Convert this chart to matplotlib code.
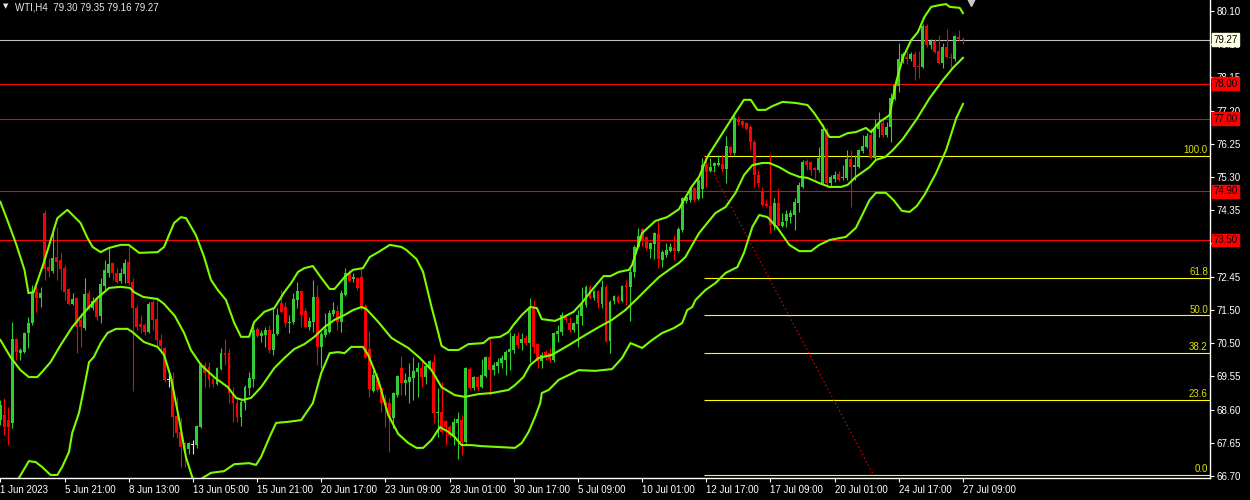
import numpy as np
import matplotlib
matplotlib.use("Agg")
import matplotlib.pyplot as plt
from matplotlib import transforms

# ---- candle data (WTI, H4) ----
opens = [68.31, 68.46, 68.31, 68.22, 70.65, 70.24, 70.27, 70.82, 71.11, 72.00,
         71.83, 74.28, 72.72, 72.61, 73.01, 72.92, 72.69, 72.09, 71.66, 71.83,
         71.20, 70.96, 71.97, 71.54, 71.83, 71.31, 72.18, 72.55, 72.84, 72.55,
         72.32, 72.52, 72.87, 72.29, 71.54, 71.08, 71.05, 70.85, 71.71, 71.22,
         70.62, 70.39, 69.47, 69.49, 68.43, 67.97, 67.65, 67.48, 67.59, 67.59,
         68.11, 69.90, 69.84, 69.49, 69.35, 69.78, 70.24, 70.24, 69.12, 68.80,
         68.40, 68.80, 69.24, 69.49, 70.94, 70.73, 70.76, 70.91, 70.33, 70.79,
         71.68, 71.57, 71.11, 71.14, 71.77, 72.03, 71.45, 70.99, 71.14, 71.86,
         70.42, 70.76, 70.85, 71.37, 71.45, 71.14, 71.92, 72.55, 72.38, 72.41,
         72.43, 71.60, 70.36, 69.15, 69.55, 69.24, 68.83, 68.80, 68.37, 69.03,
         69.81, 69.38, 69.41, 69.52, 69.70, 69.81, 69.55, 69.84, 69.98, 68.51,
         68.54, 68.28, 68.11, 67.88, 68.23, 68.31, 67.68, 69.78, 69.24, 69.55,
         69.26, 69.58, 70.13, 69.75, 69.87, 69.96, 70.04, 70.27, 70.33, 70.73,
         70.53, 70.68, 70.53, 71.54, 70.50, 70.01, 70.27, 70.24, 70.04, 70.79,
         70.85, 71.28, 71.11, 70.91, 71.08, 71.31, 71.63, 72.15, 71.83, 72.03,
         71.66, 72.15, 70.59, 71.74, 71.86, 71.74, 72.20, 72.15, 72.58, 73.30,
         73.82, 73.59, 73.24, 73.39, 73.67, 72.92, 73.07, 73.18, 73.27, 73.18,
         73.79, 74.62, 74.65, 75.00, 74.68, 74.97, 75.66, 75.49, 75.63, 75.66,
         75.69, 75.55, 76.18, 76.01, 76.99, 76.93, 76.87, 76.76, 76.33, 75.37,
         74.88, 74.54, 74.48, 73.90, 74.57, 73.90, 74.05, 74.16, 74.22, 74.57,
         75.03, 75.78, 75.75, 75.58, 75.52, 75.14, 76.70, 75.14, 75.26, 75.40,
         75.29, 75.29, 75.83, 75.60, 75.60, 76.07, 76.18, 76.53, 75.86, 76.70,
         76.87, 76.53, 76.76, 77.56, 77.94, 78.69, 78.77, 78.72, 78.86, 78.51,
         78.49, 79.67, 79.12, 79.24, 78.95, 78.60, 79.06, 78.77, 78.72, 79.35,
         79.30]
highs = [68.89, 68.95, 68.69, 71.14, 70.68, 70.39, 70.85, 71.28, 72.20, 72.18,
         72.15, 74.37, 72.98, 73.88, 73.88, 73.13, 72.78, 72.12, 71.97, 71.86,
         71.40, 72.41, 72.06, 71.86, 71.91, 72.41, 72.92, 73.27, 72.87, 72.69,
         72.69, 72.95, 73.33, 72.41, 71.63, 71.34, 71.11, 71.71, 71.77, 71.86,
         70.79, 70.42, 69.67, 69.70, 68.98, 68.37, 67.68, 67.68, 67.74, 68.17,
         69.96, 69.98, 69.98, 69.55, 69.84, 70.39, 70.65, 70.36, 69.26, 68.95,
         68.89, 69.32, 69.70, 71.14, 70.99, 70.91, 70.99, 71.05, 71.57, 71.54,
         72.06, 71.71, 71.34, 71.97, 72.29, 72.06, 71.54, 71.28, 72.35, 72.20,
         70.85, 71.40, 71.48, 71.71, 71.63, 72.06, 72.69, 72.64, 72.55, 72.43,
         72.67, 71.66, 70.88, 69.75, 69.67, 69.26, 69.03, 68.95, 69.12, 69.61,
         70.16, 69.67, 69.96, 70.13, 69.98, 69.98, 69.96, 70.04, 70.22, 69.24,
         69.41, 68.31, 68.17, 68.37, 68.54, 68.46, 69.84, 69.84, 69.58, 69.58,
         70.07, 70.16, 70.70, 69.98, 70.10, 70.19, 70.33, 70.85, 70.82, 70.85,
         70.82, 70.76, 71.83, 71.77, 70.53, 70.27, 70.33, 70.39, 70.85, 71.05,
         71.43, 71.34, 71.28, 71.14, 71.48, 72.15, 72.20, 72.20, 72.06, 72.06,
         72.35, 72.20, 71.77, 71.91, 71.91, 72.20, 72.35, 72.69, 73.36, 73.85,
         73.85, 73.62, 73.44, 73.73, 74.05, 73.21, 73.41, 73.41, 73.64, 73.88,
         74.74, 74.80, 75.06, 75.03, 75.29, 75.86, 75.92, 75.86, 75.75, 75.95,
         75.95, 76.50, 76.21, 77.13, 77.07, 76.96, 76.90, 76.82, 76.38, 75.52,
         75.03, 74.68, 75.98, 74.71, 75.00, 74.28, 74.37, 74.37, 74.71, 75.17,
         75.81, 75.84, 75.78, 75.60, 76.18, 76.84, 76.73, 75.37, 75.49, 75.49,
         75.66, 76.09, 76.09, 75.95, 76.12, 76.53, 76.59, 76.73, 76.99, 77.19,
         76.96, 76.90, 77.74, 78.02, 79.18, 78.92, 78.95, 78.92, 78.95, 78.95,
         79.73, 79.73, 79.29, 79.29, 79.41, 79.18, 79.58, 78.89, 79.41, 79.55,
         79.35]
lows = [68.17, 67.88, 67.59, 68.08, 70.04, 70.04, 70.24, 70.39, 71.05, 71.43,
        71.57, 72.35, 72.43, 72.55, 72.35, 72.06, 71.77, 71.63, 71.63, 70.24,
        70.42, 70.91, 71.48, 71.48, 71.20, 71.11, 72.06, 72.43, 72.35, 72.26,
        72.26, 72.26, 72.20, 69.15, 70.91, 70.82, 70.76, 70.82, 70.91, 70.42,
        70.24, 69.41, 69.26, 67.82, 67.79, 66.96, 66.96, 67.33, 67.33, 67.51,
        68.08, 69.26, 69.26, 69.26, 69.32, 69.75, 69.90, 68.80, 68.26, 68.26,
        68.14, 68.60, 69.03, 69.26, 70.70, 70.56, 70.42, 70.24, 70.19, 70.76,
        71.40, 70.99, 70.82, 71.08, 71.54, 70.99, 70.96, 70.91, 70.85, 69.90,
        69.81, 70.70, 70.82, 71.31, 70.91, 70.85, 71.89, 72.29, 72.29, 72.06,
        71.48, 70.10, 68.98, 69.12, 69.12, 68.54, 68.11, 67.39, 68.08, 68.98,
        69.03, 69.03, 68.80, 68.89, 68.98, 69.26, 69.35, 69.81, 68.23, 67.82,
        67.94, 67.59, 67.82, 67.59, 67.19, 67.30, 67.65, 69.18, 69.18, 69.15,
        69.24, 69.55, 69.03, 69.61, 69.67, 69.81, 69.61, 69.75, 70.24, 70.39,
        70.33, 70.47, 69.98, 70.24, 69.81, 69.81, 70.04, 69.98, 69.98, 70.56,
        70.76, 71.14, 70.85, 70.85, 70.42, 71.05, 71.57, 71.80, 71.77, 71.54,
        71.54, 70.56, 70.24, 71.66, 71.69, 71.71, 71.63, 71.17, 72.43, 73.27,
        73.33, 73.21, 72.98, 72.95, 72.69, 72.72, 73.01, 73.15, 72.92, 73.15,
        73.73, 74.57, 74.60, 74.60, 74.65, 74.71, 75.03, 75.46, 75.46, 75.63,
        75.46, 75.14, 75.95, 75.95, 76.82, 76.76, 76.67, 76.09, 75.03, 75.03,
        74.48, 74.45, 73.70, 73.79, 73.99, 73.87, 73.87, 73.99, 73.79, 74.31,
        75.00, 75.52, 75.37, 75.26, 75.46, 75.12, 75.09, 75.03, 75.17, 75.20,
        75.23, 75.23, 74.45, 75.23, 75.58, 76.01, 76.15, 75.83, 75.83, 76.47,
        76.47, 76.47, 76.33, 77.54, 77.77, 78.60, 78.57, 78.66, 78.11, 78.17,
        78.46, 79.06, 79.01, 78.89, 78.57, 78.46, 78.75, 78.40, 78.66, 79.26,
        79.16]
closes = [68.74, 68.11, 68.11, 70.65, 70.27, 70.33, 70.82, 71.11, 71.97, 71.83,
          71.97, 72.67, 72.61, 72.98, 72.87, 72.67, 72.00, 71.66, 71.80, 70.99,
          70.99, 71.94, 71.51, 71.74, 71.28, 72.23, 72.64, 72.81, 72.55, 72.29,
          72.55, 72.84, 72.26, 71.54, 70.99, 70.99, 70.85, 71.66, 71.20, 70.62,
          70.45, 69.47, 69.47, 68.40, 67.94, 67.53, 67.45, 67.65, 67.59, 68.14,
          69.90, 69.67, 69.47, 69.35, 69.81, 70.24, 70.19, 69.09, 68.80, 68.40,
          68.83, 69.26, 69.52, 70.91, 70.73, 70.82, 70.91, 70.33, 70.79, 71.34,
          71.43, 71.11, 71.14, 71.80, 72.03, 71.34, 70.99, 71.17, 71.86, 70.42,
          70.79, 70.94, 71.40, 71.48, 71.14, 71.97, 72.55, 72.32, 72.43, 72.12,
          71.57, 70.13, 69.21, 69.61, 69.18, 68.80, 68.74, 68.37, 69.09, 69.58,
          69.38, 69.47, 69.55, 69.73, 69.81, 69.55, 69.87, 70.01, 68.51, 68.54,
          67.97, 68.11, 67.88, 68.25, 68.34, 67.68, 69.81, 69.24, 69.55, 69.26,
          69.61, 70.13, 69.75, 69.90, 69.98, 70.10, 70.27, 70.36, 70.73, 70.47,
          70.65, 70.53, 71.54, 70.42, 70.01, 70.19, 70.16, 70.07, 70.82, 70.88,
          71.34, 71.20, 70.91, 71.11, 71.34, 71.69, 72.15, 71.83, 72.03, 71.69,
          72.15, 70.59, 71.71, 71.89, 71.71, 72.18, 72.15, 72.58, 73.30, 73.62,
          73.50, 73.27, 73.41, 73.70, 72.95, 73.15, 73.21, 73.30, 73.18, 73.82,
          74.71, 74.74, 75.00, 74.65, 75.23, 75.66, 75.46, 75.60, 75.72, 75.72,
          75.55, 76.21, 76.01, 77.02, 76.90, 76.82, 76.70, 76.33, 75.37, 75.14,
          74.51, 74.48, 73.93, 74.57, 73.90, 74.02, 74.25, 74.28, 74.60, 75.09,
          75.75, 75.66, 75.52, 75.52, 75.86, 76.70, 75.14, 75.32, 75.37, 75.23,
          75.32, 75.83, 75.60, 75.66, 76.09, 76.21, 76.50, 75.86, 76.70, 76.87,
          76.53, 76.76, 77.59, 77.97, 78.72, 78.86, 78.72, 78.86, 78.49, 78.49,
          79.67, 79.12, 79.24, 78.92, 78.60, 79.06, 78.77, 78.75, 79.38, 79.29,
          79.27]

# ---- Bollinger bands (bar index, price) ----
upper_x = [0, 2, 4, 6, 7, 8.3, 10.8, 14.2, 16.7, 20, 21.7, 23, 25, 27, 30, 32, 34.6, 39.2, 40.8, 43.3,
           45, 46.3, 48.75, 50.8, 52.5, 54.2, 56.25, 58.3, 60, 62, 63.3, 65.8, 68.3, 70.8, 72.5, 74.2,
           75.8, 77.9, 80, 82.1, 83.3, 85.8, 87.9, 90.4, 92.1, 94.2, 97.1, 100, 101.25, 103.75, 105.4,
           107.5, 109.2, 110, 111.7, 114.2, 116.7, 120.4, 122, 124.6, 126.7, 127.9, 130, 132.1, 133.75,
           135, 138.3, 140.4, 142.9, 145, 147.5, 150.4, 152.1, 154.2, 156.7, 157.5, 160, 163.3, 166.25,
           169.2, 170.4, 172.5, 174.2, 176.25, 182.9, 185.4, 187.1, 188.75, 190.8, 192.5, 195, 198.3,
           201.25, 202.9, 204.6, 206.7, 209.2, 211.25, 213.3, 215.8, 217.1, 219.2, 221.7, 223.3, 225,
           227.1, 228.75, 230.4, 232.1, 234.2, 235.8, 236.7, 239.2, 240]
upper = [74.60, 73.99, 73.36, 72.64, 71.97, 72.00, 72.84, 74.13, 74.37, 73.99, 73.56, 73.30, 73.15, 73.27,
         73.36, 73.36, 73.13, 73.15, 73.30, 73.99, 74.16, 74.13, 73.64, 73.01, 72.35, 72.06, 71.77, 71.11,
         70.71, 70.71, 71.14, 71.43, 71.54, 72.00, 72.26, 72.58, 72.69, 72.75, 72.41, 72.09, 72.09, 72.43,
         72.64, 72.69, 73.01, 73.15, 73.36, 73.30, 73.21, 72.95, 72.58, 71.57, 70.82, 70.45, 70.33, 70.33,
         70.50, 70.53, 70.68, 70.71, 70.85, 71.05, 71.34, 71.57, 71.54, 71.22, 71.17, 71.28, 71.43, 71.69,
         72.06, 72.46, 72.46, 72.58, 72.64, 72.78, 73.70, 74.05, 74.16, 74.39, 74.65, 75.06, 75.32, 75.89,
         77.10, 77.54, 77.54, 77.25, 77.25, 77.36, 77.48, 77.45, 77.39, 77.16, 76.87, 76.47, 76.47, 76.58,
         76.61, 76.73, 76.61, 76.90, 77.10, 78.03, 78.75, 79.26, 79.49, 79.93, 80.22, 80.27, 80.30, 80.22,
         80.19, 80.04]
middle_x = [0, 2.5, 5, 7.1, 9.2, 10.4, 12.5, 15, 17.9, 20.8, 24.2, 27.1, 30, 32.3, 33.3, 35.6, 39.2, 40.8,
            43.5, 45.8, 47.5, 50, 53.3, 56.7, 58.75, 60.4, 62.5, 65, 68.3, 70.8, 73.3, 75.8, 78.3, 80.8,
            83.3, 85.8, 87.9, 90, 91.25, 94.2, 97.5, 99.2, 101.7, 104.6, 107.5, 110, 113.3, 115.8, 119.2,
            122.5, 126.7, 128.3, 130.4, 132.1, 134.2, 137.5, 141.7, 145.8, 149.2, 152.5, 155.8, 159.2,
            161.7, 164.2, 166.7, 169.2, 170.8, 172.5, 174.2, 178.3, 180.8, 183.3, 185.4, 187.5, 190, 191.7,
            194.2, 196.7, 199.2, 201.25, 204.2, 206.7, 209.6, 211.25, 213.3, 216.7, 218.3, 220.6, 222.5,
            225, 228.5, 231.7, 235, 237.5, 240]
middle = [70.62, 70.13, 69.75, 69.55, 69.55, 69.70, 69.98, 70.47, 70.99, 71.40, 71.83, 72.12, 72.15, 72.12,
          72.00, 71.86, 71.80, 71.66, 71.31, 70.82, 70.33, 69.90, 69.55, 69.26, 68.95, 68.89, 68.95, 69.26,
          69.81, 70.10, 70.36, 70.50, 70.71, 70.99, 71.20, 71.34, 71.48, 71.57, 71.51, 71.14, 70.68, 70.56,
          70.39, 70.10, 69.75, 69.26, 69.03, 68.98, 69.06, 69.09, 69.18, 69.32, 69.55, 69.90, 70.10, 70.19,
          70.47, 70.76, 70.99, 71.20, 71.48, 71.86, 72.15, 72.43, 72.64, 72.84, 73.01, 73.36, 73.70, 74.28,
          74.45, 74.86, 75.37, 75.66, 75.72, 75.72, 75.60, 75.43, 75.32, 75.29, 75.14, 75.03, 75.03, 75.09,
          75.32, 75.60, 75.81, 75.89, 76.09, 76.41, 76.99, 77.59, 78.11, 78.46, 78.75]
lower_x = [0, 3, 4.6, 7.1, 8.8, 10.4, 12.5, 14.2, 15.4, 17.1, 17.9, 19.6, 21.25, 22.1, 23.3, 25, 26.7,
           28.8, 31.7, 32.9, 35.8, 39.2, 40.8, 42.5, 44.6, 46.25, 47.9, 49.3, 50.8, 52.5, 55.8, 58.3, 62,
           63.75, 65, 67.1, 68.75, 71.7, 75, 77.9, 80, 82.1, 84.2, 85.8, 87.5, 90.4, 91.7, 94.2, 96.7, 99.2,
           101.7, 103.75, 105.4, 107.5, 109.6, 111.7, 113.3, 115, 117.5, 120, 125, 128.3, 130, 131.7, 133.3,
           134.6, 135, 136.7, 139.2, 141.7, 144.2, 148.3, 152.5, 155, 157.1, 160, 162.5, 165, 167.9, 170,
           171.25, 172.5, 173.3, 175.8, 178.3, 180.8, 183.75, 185.4, 187.5, 189.2, 191.25, 193.75, 196.7,
           199.2, 202.1, 204.2, 206.7, 210.8, 213.3, 216.7, 218.3, 220.8, 222.7, 224.8, 226.7, 228.5, 230.4,
           233.3, 235.8, 238.3, 240]
lower = [66.30, 66.44, 66.64, 67.13, 67.10, 66.96, 66.73, 66.73, 66.96, 67.39, 67.94, 68.52, 69.47, 69.98,
         70.13, 70.53, 70.82, 70.94, 70.94, 70.85, 70.56, 70.42, 70.19, 69.55, 68.31, 67.25, 66.64, 66.56,
         66.67, 66.79, 66.84, 67.04, 67.07, 67.02, 67.25, 67.82, 68.23, 68.26, 68.31, 68.80, 69.67, 70.24,
         70.27, 70.24, 70.42, 70.42, 70.19, 69.47, 68.46, 67.91, 67.65, 67.51, 67.51, 67.74, 68.11, 67.97,
         67.82, 67.59, 67.59, 67.56, 67.53, 67.51, 67.65, 67.97, 68.40, 68.80, 69.09, 69.18, 69.47, 69.61,
         69.75, 69.73, 69.78, 70.10, 70.53, 70.39, 70.62, 70.82, 70.96, 71.11, 71.48, 71.57, 71.77, 72.06,
         72.26, 72.55, 72.72, 73.13, 73.88, 74.22, 74.16, 73.85, 73.36, 73.18, 73.18, 73.36, 73.50, 73.59,
         73.85, 74.65, 74.86, 74.86, 74.65, 74.34, 74.31, 74.48, 74.80, 75.43, 76.09, 77.00, 77.42]

# ---- objects on the chart ----
hlines_red = [78.00, 77.00, 74.90, 73.50]
bid_price = 79.27
fib_start, fib_end = 175.5, 217.7          # bar positions of the fibo anchors
fib_high, fib_low = 75.92, 66.73
fib_levels = [0.0, 23.6, 38.2, 50.0, 61.8, 100.0]

x_labels = ['1 Jun 2023', '5 Jun 21:00', '8 Jun 13:00', '13 Jun 05:00', '15 Jun 21:00',
            '20 Jun 17:00', '23 Jun 09:00', '28 Jun 01:00', '30 Jun 17:00', '5 Jul 09:00',
            '10 Jul 01:00', '12 Jul 17:00', '17 Jul 09:00', '20 Jul 01:00', '24 Jul 17:00',
            '27 Jul 09:00']
y_labels = ['80.10', '79.15', '78.15', '77.20', '76.25', '75.30', '74.35', '73.40', '72.45',
            '71.50', '70.50', '69.55', '68.60', '67.65', '66.70']

plt.rcParams['font.family'] = ['Liberation Sans', 'DejaVu Sans']

BULL = '#32CD32'
BEAR = '#FF0000'
BAND = '#7CFC00'
FIB = '#FFFF00'

fig = plt.figure(figsize=(12.5, 5), dpi=100, facecolor='black')
ax = fig.add_axes([0.0, 0.044, 0.968, 0.956])
ax.set_facecolor('black')

n = len(opens)
xs = np.arange(n)
o = np.array(opens); h = np.array(highs); l = np.array(lows); c = np.array(closes)
colors = np.where(c > o, BULL, np.where(c < o, BEAR, '#F0E0E0'))

# wicks and bodies
ax.vlines(xs, l, h, colors=colors, linewidth=0.8, zorder=3)
body_low = np.minimum(o, c)
body_h = np.maximum(np.abs(c - o), 0.03)
ax.bar(xs, body_h, bottom=body_low, width=0.72, color=colors, linewidth=0, zorder=3)

# bollinger bands
for bx, by in [(upper_x, upper), (middle_x, middle), (lower_x, lower)]:
    ax.plot(bx, by, color=BAND, linewidth=1.5, zorder=4, solid_joinstyle='round')

xmax = 301.6
ax.set_xlim(-0.1, xmax)
ax.set_ylim(66.642, 80.417)

# horizontal lines
for p in hlines_red:
    ax.axhline(p, color='#FF0000', linewidth=0.8, zorder=2)
ax.axhline(bid_price, color='#C0C0C0', linewidth=0.8, zorder=2)

# fibonacci retracement
rng = fib_high - fib_low
for lev in fib_levels:
    p = fib_low + rng * lev / 100.0
    ax.hlines(p, fib_start, xmax, color=FIB, linewidth=0.8, zorder=2)
    ax.annotate(f'{lev:.1f}', xy=(1.0, p), xycoords=('axes fraction', 'data'),
                xytext=(-1.5, 0.5), textcoords='offset points', ha='right', va='bottom',
                color='#E0E000', fontsize=7, zorder=5)
ax.plot([fib_start, fib_end], [fib_high, fib_low], color='#FF0000', linewidth=0.8,
        linestyle=(0, (1.2, 2.5)), zorder=2)

# shift marker at the top
ax.plot([242], [80.417], marker='v', markersize=9, color='#C8C8C8', zorder=6, clip_on=True)

# axes styling
for side in ['top', 'left']:
    ax.spines[side].set_visible(False)
for side in ['right', 'bottom']:
    ax.spines[side].set_color('white')
    ax.spines[side].set_linewidth(1.0)

ax.yaxis.tick_right()
ax.set_yticks(np.linspace(80.10, 66.70, len(y_labels)))
ax.set_yticklabels(y_labels)
ax.set_xticks(np.arange(0, 16 * len(x_labels), 16))
ax.set_xticklabels(x_labels, ha='left')
ax.tick_params(axis='y', direction='out', length=3, width=0.8, colors='white', labelsize=7, pad=2)
ax.tick_params(axis='x', direction='out', length=3, width=0.8, colors='white', labelsize=7, pad=2)

# price labels on the right scale
for p in hlines_red:
    ax.annotate(f'{p:.2f}', xy=(1.0, p), xycoords=('axes fraction', 'data'),
                xytext=(2.5, 0), textcoords='offset points', ha='left', va='center',
                color='black', fontsize=7, zorder=10, annotation_clip=False,
                bbox=dict(boxstyle='square,pad=0.15', facecolor='#FF0000', edgecolor='#FF0000'))
ax.annotate(f'{bid_price:.2f}', xy=(1.0, bid_price), xycoords=('axes fraction', 'data'),
            xytext=(2.5, 0), textcoords='offset points', ha='left', va='center',
            color='black', fontsize=7, zorder=10, annotation_clip=False,
            bbox=dict(boxstyle='square,pad=0.15', facecolor='#FFFFE6', edgecolor='#FFFFE6'))

# title
fig.text(0.0025, 0.987, '\u25BC', color='#E8E8E8', fontsize=5, va='center', ha='left',
         family=['DejaVu Sans'])
fig.text(0.012, 0.986, 'WTI,H4  79.30 79.35 79.16 79.27', color='#E8E8E8', fontsize=7,
         va='center', ha='left')

fig.savefig('out.png', dpi=100, facecolor='black')
